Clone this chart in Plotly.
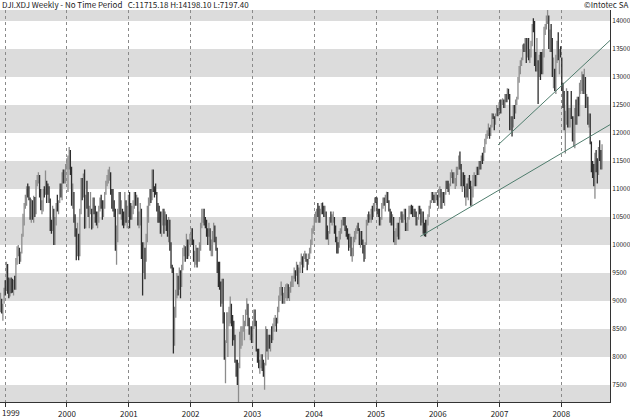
import pandas as pd
import plotly.graph_objects as go

# ---------------- data (weekly DJI) ----------------
first_week = "1998-12-04"

close = [
    9016, 8821, 8903, 9217, 9181,
    # 1999
    9643, 9340, 9120, 9358, 9304, 9274, 9340, 9306, 9736, 9876, 9903, 9822,
    9832, 10173, 10493, 10689, 10789, 11031, 10913, 10829, 10560, 10799, 10490, 10855, 10552,
    11139, 11193, 11209, 10910, 10655, 10714, 10973, 10963, 11090, 11079, 11028, 10803, 10279,
    10273, 10649, 10019, 10470, 10730, 10704, 10770, 11003, 10988, 11286, 11224, 11257, 11405, 11497,
    # 2000
    11522, 11723, 11351, 10739, 10964, 10425, 10220, 9862, 10367, 9929, 10595, 11113, 10922,
    11112, 10305, 10844, 10734, 10577, 10609, 10627, 10300, 10794, 10614, 10449, 10405, 10448,
    10636, 10812, 10733, 10511, 10767, 10908, 11046, 11193, 11238, 11260, 10927, 10847, 10651,
    10596, 10192, 10226, 10590, 10817, 10602, 10630, 10470, 10373, 10713, 10434, 10636, 10787,
    # 2001
    10662, 10525, 10587, 10659, 10864, 10781, 10799, 10441, 10466, 10644, 9823, 9504, 9879,
    9791, 10127, 10579, 10811, 10951, 10821, 11302, 11005, 10990, 10977, 10624, 10604, 10502,
    10252, 10539, 10577, 10416, 10512, 10416, 10241, 10424, 9950, 9606, 9605, 8236, 8848,
    9120, 9345, 9205, 9545, 9323, 9608, 9872, 9959, 9852, 10049, 9811, 10036, 10136,
    # 2002
    10260, 10067, 9771, 9841, 9908, 9744, 9903, 9968, 10368, 10572, 10608, 10427, 10404,
    10271, 10190, 10257, 9910, 10006, 10115, 10353, 10105, 9925, 9589, 9474, 9253, 9243,
    9380, 8684, 8019, 8264, 8313, 8745, 8778, 8872, 8664, 8427, 8379, 7986, 7701,
    7528, 7850, 8322, 8443, 8518, 8537, 8579, 8804, 8896, 8645, 8433, 8512, 8303,
    # 2003
    8601, 8785, 8587, 8131, 8054, 7865, 7909, 8018, 7891, 7740, 7859, 8521, 8145,
    8277, 8221, 8337, 8306, 8582, 8604, 8713, 8601, 8850, 9062, 9117, 9200, 9011,
    9070, 9119, 9189, 9285, 9153, 9191, 9321, 9348, 9416, 9503, 9472, 9644, 9313,
    9573, 9674, 9721, 9582, 9801, 9810, 9768, 9629, 9782, 9863, 10042, 10278, 10305,
    # 2004
    10409, 10458, 10600, 10568, 10488, 10593, 10628, 10620, 10584, 10596, 10241, 10186, 10213,
    10470, 10442, 10451, 10472, 10226, 10117, 10012, 9967, 10188, 10243, 10410, 10417, 10371,
    10283, 10213, 10140, 9962, 10140, 9815, 9826, 10111, 10196, 10260, 10314, 10284, 10047,
    10192, 10055, 9933, 9758, 10027, 10387, 10539, 10456, 10522, 10592, 10543, 10650, 10828, 10783,
    # 2005
    10603, 10558, 10393, 10427, 10716, 10796, 10785, 10841, 10941, 10774, 10629, 10443,
    10404, 10461, 10088, 10157, 10193, 10345, 10140, 10471, 10542, 10460, 10512, 10623, 10297,
    10303, 10449, 10641, 10651, 10641, 10559, 10600, 10559, 10397, 10447, 10679, 10641, 10419, 10569,
    10292, 10287, 10215, 10402, 10531, 10686, 10766, 10931, 10877, 10778, 10876, 10883, 10718,
    # 2006
    10959, 10960, 10667, 10907, 10793, 10919, 11115, 11062, 11022, 11076, 11279, 11280, 11109,
    11120, 11137, 11347, 11367, 11577, 11380, 11144, 11278, 11247, 10891, 11015, 10989, 11150,
    11091, 10739, 10868, 11220, 11240, 11089, 11381, 11284, 11464, 11392, 11560, 11508, 11679,
    11850, 11960, 12002, 12090, 11987, 12108, 12343, 12280, 12195, 12307, 12445, 12343, 12463,
    # 2007
    12398, 12556, 12565, 12487, 12653, 12580, 12768, 12647, 12114, 12276, 12110, 12481, 12354,
    12560, 12612, 12962, 13120, 13265, 13326, 13556, 13507, 13668, 13424, 13639, 13360, 13409,
    13612, 13908, 13851, 13265, 13182, 13240, 13079, 13379, 13358, 13113, 13442, 13820, 13896,
    14066, 14093, 13522, 13807, 13595, 13043, 13177, 12799, 13372, 13626, 13339, 13451, 13366,
    # 2008
    12800, 12606, 12099, 12207, 12743, 12182, 12348, 12381, 12266, 11894, 11951, 12361, 12216,
    12610, 12325, 12850, 12892, 13058, 12745, 12986, 12480, 12638, 12209, 12308, 11843, 11347,
    11288, 11100, 11496, 11370, 11326, 11734, 11660, 11628, 11715,
]

high = [
    9150, 9040, 8950, 9240, 9370,
    # 1999
    9700, 9660, 9420, 9400, 9420, 9400, 9380, 9450, 9770, 9980, 10000, 9950,
    9880, 10200, 10560, 10750, 10900, 11050, 11100, 11050, 10850, 10820, 10800, 10880, 10860,
    11160, 11250, 11300, 11250, 11000, 10800, 11000, 11050, 11330, 11150, 11100, 11050, 10830,
    10450, 10700, 10650, 10500, 10750, 10900, 10800, 11100, 11100, 11300, 11350, 11350, 11450, 11550,
    # 2000
    11600, 11750, 11700, 11400, 11100, 10950, 10550, 10300, 10400, 10200, 10650, 11200, 11200,
    11280, 11350, 10900, 11150, 10950, 10700, 10950, 10650, 10850, 10850, 10700, 10600, 10600,
    10700, 10850, 10900, 10800, 10800, 10950, 11150, 11250, 11350, 11400, 11300, 11000, 11000,
    10800, 10650, 10350, 10650, 10950, 10950, 10800, 10650, 10600, 10950, 10800, 10700, 10900,
    # 2001
    10950, 10750, 10700, 10800, 10950, 10950, 10900, 10850, 10600, 10750, 10650, 10050, 10050,
    9950, 10200, 10700, 10850, 11000, 11000, 11350, 11350, 11050, 11100, 10950, 10750, 10700,
    10600, 10600, 10650, 10650, 10600, 10550, 10450, 10500, 10450, 10050, 9650, 9600, 8900,
    9200, 9500, 9450, 9600, 9550, 9650, 9950, 10000, 9980, 10200, 10100, 10100, 10200,
    # 2002
    10300, 10300, 10100, 9900, 10000, 9950, 9950, 10050, 10400, 10650, 10650, 10650, 10500,
    10450, 10300, 10400, 10300, 10100, 10250, 10400, 10350, 10150, 9950, 9700, 9700, 9350,
    9400, 9400, 8800, 8300, 8800, 8800, 8900, 9080, 8950, 8750, 8650, 8400, 7950,
    7950, 7900, 8450, 8550, 8550, 8750, 8650, 8850, 9050, 8950, 8700, 8550, 8550,
    # 2003
    8650, 8850, 8850, 8650, 8150, 8150, 7950, 8050, 8050, 7950, 7900, 8550, 8500,
    8400, 8400, 8400, 8550, 8600, 8700, 8750, 8700, 8900, 9100, 9250, 9350, 9250,
    9150, 9250, 9300, 9320, 9300, 9250, 9350, 9450, 9450, 9600, 9550, 9700, 9650,
    9600, 9700, 9850, 9800, 9850, 9900, 9850, 9750, 9850, 9950, 10100, 10300, 10350,
    # 2004
    10500, 10600, 10650, 10750, 10700, 10650, 10750, 10760, 10700, 10700, 10600, 10350, 10250,
    10500, 10600, 10550, 10600, 10500, 10350, 10150, 10050, 10250, 10300, 10450, 10500, 10500,
    10500, 10350, 10300, 10200, 10200, 10150, 9950, 10150, 10250, 10300, 10350, 10400, 10300,
    10250, 10250, 10100, 10000, 10050, 10450, 10550, 10600, 10550, 10650, 10700, 10750, 10850, 10860,
    # 2005
    10850, 10650, 10650, 10500, 10750, 10850, 10850, 10900, 10950, 10950, 10800, 10650,
    10600, 10550, 10500, 10250, 10300, 10400, 10400, 10500, 10600, 10600, 10550, 10650, 10650,
    10400, 10500, 10700, 10700, 10720, 10700, 10650, 10650, 10600, 10500, 10700, 10700, 10650, 10600,
    10600, 10400, 10450, 10450, 10550, 10700, 10800, 10950, 10950, 10900, 10950, 10950, 10900,
    # 2006
    11000, 11050, 11000, 10950, 10950, 10950, 11150, 11150, 11150, 11100, 11300, 11350, 11300,
    11300, 11200, 11400, 11400, 11600, 11670, 11450, 11300, 11300, 11250, 11050, 11100, 11200,
    11250, 11150, 11050, 11250, 11300, 11250, 11400, 11400, 11500, 11500, 11600, 11650, 11750,
    11900, 11990, 12050, 12170, 12100, 12150, 12350, 12350, 12300, 12350, 12500, 12450, 12550,
    # 2007
    12600, 12600, 12620, 12600, 12700, 12700, 12800, 12790, 12700, 12300, 12300, 12500, 12500,
    12600, 12650, 13000, 13200, 13300, 13350, 13580, 13600, 13700, 13700, 13700, 13700, 13500,
    13650, 13950, 14050, 14000, 13450, 13700, 13300, 13400, 13450, 13450, 13500, 13900, 13950,
    14100, 14198, 14100, 13850, 13950, 13700, 13350, 13150, 13400, 13650, 13800, 13500, 13550,
    # 2008
    13350, 12900, 12750, 12400, 12800, 12750, 12450, 12450, 12750, 12300, 12300, 12450, 12600,
    12650, 12650, 12900, 12950, 13100, 13050, 13150, 13000, 12700, 12650, 12350, 12350, 11850,
    11500, 11450, 11650, 11700, 11550, 11750, 11870, 11700, 11800,
]

low = [
    8800, 8780, 8650, 8950, 9100,
    # 1999
    9180, 9130, 9050, 9080, 9140, 9150, 9100, 9200, 9200, 9650, 9800, 9660,
    9700, 9850, 10150, 10350, 10650, 10700, 10850, 10800, 10450, 10400, 10450, 10400, 10500,
    10550, 11050, 11100, 10850, 10620, 10550, 10600, 10850, 10900, 10750, 10900, 10750, 10250,
    10200, 10250, 10000, 10000, 10350, 10600, 10550, 10750, 10850, 10800, 11100, 11100, 11100, 11350,
    # 2000
    10950, 11350, 11250, 10700, 10650, 10400, 10150, 9730, 9800, 9730, 9800, 10550, 10800,
    10850, 10300, 10300, 10650, 10500, 10300, 10550, 10280, 10300, 10550, 10400, 10350, 10300,
    10400, 10600, 10650, 10450, 10500, 10650, 10900, 11050, 11100, 11150, 10900, 10650, 10600,
    10500, 9900, 9650, 10050, 10550, 10550, 10450, 10350, 10300, 10350, 10400, 10300, 10550,
    # 2001
    10300, 10450, 10450, 10550, 10650, 10700, 10700, 10350, 10300, 10350, 9750, 9100, 9500,
    9390, 9700, 10050, 10400, 10700, 10750, 10800, 10950, 10850, 10900, 10600, 10400, 10400,
    10200, 10150, 10350, 10200, 10350, 10250, 10150, 10050, 9900, 9580, 9500, 8062, 8200,
    8700, 9050, 9100, 9200, 9050, 9250, 9550, 9800, 9700, 9750, 9750, 9800, 10000,
    # 2002
    10000, 10000, 9700, 9600, 9650, 9600, 9700, 9700, 9900, 10300, 10400, 10350, 10300,
    10150, 10000, 10150, 9900, 9800, 9800, 10050, 10050, 9900, 9500, 9250, 9200, 8900,
    8950, 8600, 7950, 7532, 8250, 8000, 8550, 8600, 8550, 8200, 8300, 7900, 7650,
    7500, 7197, 7800, 8150, 8200, 8450, 8300, 8550, 8750, 8550, 8400, 8300, 8250,
    # 2003
    8250, 8500, 8550, 8100, 7900, 7800, 7700, 7800, 7750, 7650, 7416, 7850, 8100,
    7950, 8150, 8100, 8250, 8300, 8450, 8550, 8450, 8600, 8800, 9000, 9100, 8950,
    8950, 8950, 9050, 9000, 9050, 9000, 9150, 9250, 9250, 9400, 9350, 9450, 9300,
    9250, 9500, 9650, 9500, 9600, 9750, 9700, 9550, 9650, 9750, 9850, 10000, 10200,
    # 2004
    10250, 10400, 10400, 10500, 10400, 10400, 10550, 10550, 10500, 10500, 10100, 10100, 10000,
    10200, 10400, 10350, 10400, 10200, 10050, 9850, 9850, 9950, 10100, 10200, 10350, 10350,
    10250, 10150, 10100, 9900, 9950, 9800, 9700, 9800, 10050, 10100, 10200, 10250, 10000,
    9950, 10000, 9850, 9700, 9750, 10000, 10350, 10400, 10450, 10400, 10450, 10500, 10600, 10750,
    # 2005
    10550, 10500, 10350, 10350, 10450, 10650, 10700, 10600, 10750, 10750, 10600, 10400,
    10350, 10350, 10050, 10000, 10000, 10150, 10100, 10100, 10450, 10400, 10400, 10450, 10250,
    10250, 10250, 10450, 10550, 10550, 10500, 10500, 10500, 10350, 10350, 10450, 10550, 10350, 10400,
    10200, 10156, 10150, 10200, 10350, 10500, 10650, 10750, 10800, 10750, 10750, 10800, 10700,
    # 2006
    10650, 10850, 10650, 10650, 10750, 10700, 10900, 11000, 10950, 10900, 11050, 11200, 11100,
    11100, 11000, 11050, 11250, 11350, 11350, 11050, 10950, 11050, 10850, 10700, 10850, 10800,
    11000, 10700, 10700, 10850, 11050, 11050, 11050, 11250, 11250, 11350, 11350, 11450, 11500,
    11650, 11800, 11900, 11950, 11900, 11950, 12100, 12250, 12050, 12150, 12300, 12300, 12400,
    # 2007
    12350, 12350, 12500, 12450, 12450, 12550, 12550, 12600, 12050, 12050, 11939, 12100, 12250,
    12350, 12500, 12600, 12900, 13050, 13200, 13300, 13450, 13450, 13250, 13350, 13300, 13250,
    13350, 13550, 13800, 13200, 13100, 13100, 12518, 13000, 12950, 13050, 13050, 13350, 13750,
    13850, 13950, 13500, 13450, 13450, 13000, 12800, 12750, 12700, 13250, 13300, 13050, 13350,
    # 2008
    12750, 12450, 12050, 11634, 12150, 12100, 12100, 12100, 12250, 11850, 11750, 11731, 12150,
    12150, 12300, 12300, 12700, 12750, 12700, 12700, 12450, 12450, 12150, 12100, 11800, 11300,
    11200, 11050, 10827, 11300, 11100, 11250, 11500, 11350, 11350,
]

# axis values
y_range = [7197.4, 14198.1]
x_range = ["1998-12-01", "2008-10-15"]
y_ticks = [7500, 8000, 8500, 9000, 9500, 10000, 10500, 11000,
           11500, 12000, 12500, 13000, 13500, 14000]
year_ticks = ["1999-01-01", "2000-01-01", "2001-01-01", "2002-01-01", "2003-01-01",
              "2004-01-01", "2005-01-01", "2006-01-01", "2007-01-01", "2008-01-01"]
year_labels = ["1999", "2000", "2001", "2002", "2003",
               "2004", "2005", "2006", "2007", "2008"]
band_lows = [7000, 8000, 9000, 10000, 11000, 12000, 13000, 14000]
band_size = 500

# trend lines drawn on the chart (start date, start value, end date, end value)
trend_x0 = ["2005-09-20", "2006-12-24"]
trend_y0 = [10155, 11790]
trend_x1 = ["2008-10-15", "2008-10-15"]
trend_y1 = [12150, 13655]

title_text = "DJI.XDJ Weekly - No Time Period   C:11715.18 H:14198.10 L:7197.40"
credit_text = "\u00a9Intotec SA"

# ---------------- figure ----------------
dates = pd.date_range(first_week, periods=len(close), freq="W-FRI")
df = pd.DataFrame({"date": dates, "high": high, "low": low, "close": close})
df["up"] = df["close"].diff().fillna(0) >= 0

FONT = "Noto Sans CJK SC, Liberation Sans, Arial, sans-serif"
FS = 8

fig = go.Figure()
for flag, col in [(True, "#8c8c8c"), (False, "#2e2e2e")]:
    sub = df[df["up"] == flag]
    fig.add_trace(go.Ohlc(
        x=sub["date"], open=sub["close"], high=sub["high"], low=sub["low"],
        close=sub["close"],
        increasing=dict(line=dict(color=col, width=1.3)),
        decreasing=dict(line=dict(color=col, width=1.3)),
        tickwidth=0.5, hoverinfo="skip", showlegend=False,
    ))

shapes = []
for b in band_lows:
    lo = max(b, y_range[0])
    hi = min(b + band_size, y_range[1])
    shapes.append(dict(type="rect", xref="paper", yref="y", x0=0, x1=1,
                       y0=lo, y1=hi, fillcolor="#dcdcdc", line_width=0,
                       layer="below"))
for i in range(len(trend_x0)):
    shapes.append(dict(type="line", xref="x", yref="y",
                       x0=trend_x0[i], y0=trend_y0[i],
                       x1=trend_x1[i], y1=trend_y1[i],
                       line=dict(color="#4f7d6d", width=1), layer="above"))

# first year label sits at the very left edge; draw it left-anchored so it stays visible
tick_text = [""] + year_labels[1:]

fig.update_layout(
    width=630, height=418, autosize=False,
    margin=dict(l=0, r=20, t=10, b=16, pad=0),
    paper_bgcolor="white", plot_bgcolor="white",
    font=dict(family=FONT, size=FS, color="#222"),
    shapes=shapes,
    showlegend=False,
    annotations=[
        dict(text=title_text, xref="paper", yref="paper", x=0.0, y=1.0,
             xanchor="left", yanchor="bottom", showarrow=False,
             font=dict(family=FONT, size=FS, color="#222"), yshift=-2),
        dict(text=credit_text, xref="paper", yref="paper", x=1.0328, y=1.0,
             xanchor="right", yanchor="bottom", showarrow=False,
             font=dict(family=FONT, size=FS, color="#222"), yshift=-2),
        dict(text=year_labels[0], xref="paper", yref="paper", x=0.0, y=0.0,
             xanchor="left", yanchor="middle", showarrow=False,
             font=dict(family=FONT, size=FS, color="#222"), yshift=-10.5),
    ],
    xaxis=dict(
        type="date", range=x_range, rangeslider=dict(visible=False),
        tickvals=year_ticks, ticktext=tick_text,
        ticks="outside", ticklen=4, tickcolor="#333", tickwidth=1,
        showline=True, linecolor="#333", linewidth=1,
        showgrid=True, gridcolor="#8a8a8a", griddash="dot", gridwidth=1,
        zeroline=False, automargin=False, fixedrange=True,
        tickfont=dict(family=FONT, size=FS, color="#222"),
    ),
    yaxis=dict(
        side="right", range=y_range, tickvals=y_ticks, tickformat="d",
        ticks="", showline=True, linecolor="#333", linewidth=1,
        showgrid=False, zeroline=False, automargin=False, fixedrange=True,
        ticklabelstandoff=0,
        tickfont=dict(family=FONT, size=6.5, color="#222"),
    ),
)

fig.write_html(
    "out.html",
    config={"displayModeBar": False},
    post_script="document.body.style.margin='0px';document.body.style.overflow='hidden';",
)
